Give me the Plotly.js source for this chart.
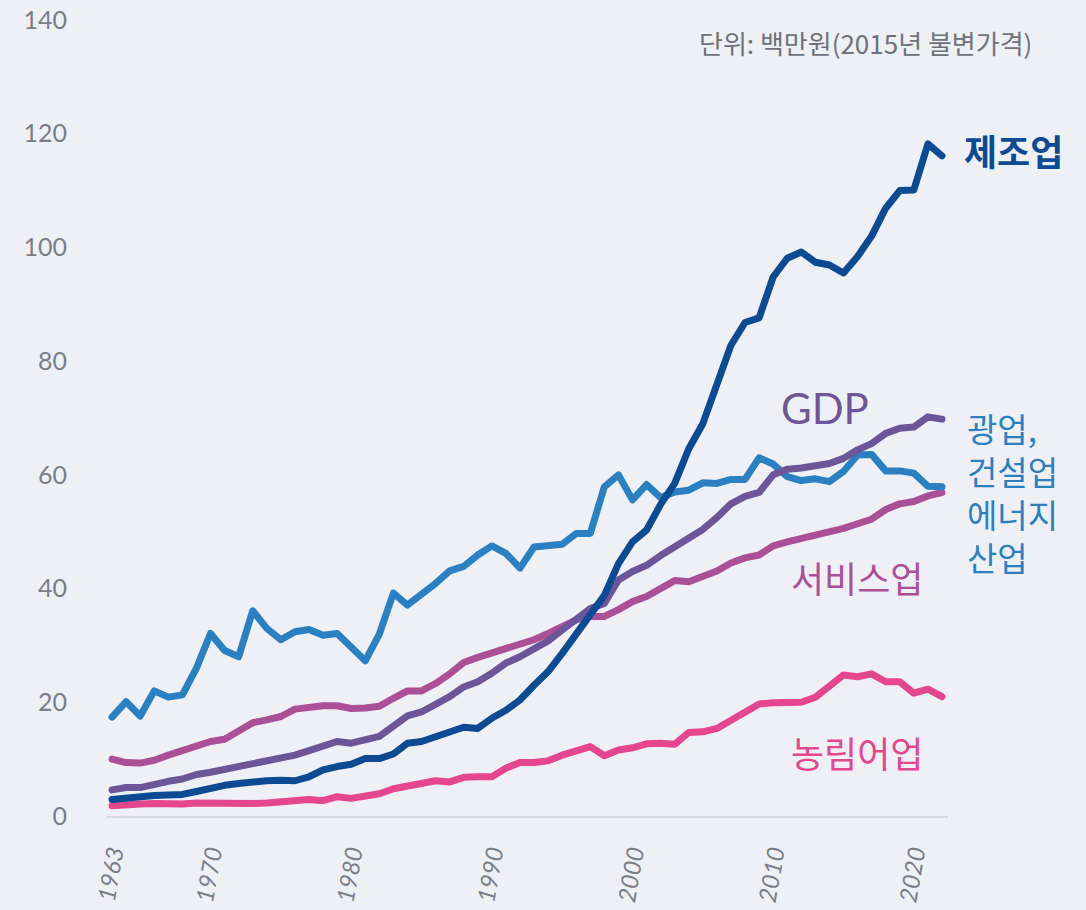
<!DOCTYPE html>
<html>
<head>
<meta charset="utf-8">
<script src="https://cdn.plot.ly/plotly-3.0.1.min.js"></script>
<style>
html,body{margin:0;padding:0;background:#eff0f6;}
#chart{width:1086px;height:910px;}
.scatterlayer .js-line{stroke-linecap:round !important;stroke-linejoin:round !important;}
</style>
</head>
<body>
<div id="chart"></div>
<script>
const years = [];
for (let y = 1963; y <= 2022; y++) years.push(y);

const manufacturing = [2.9,3.2,3.3,3.6,3.7,3.8,4.3,4.9,5.4,5.7,6.1,6.2,6.3,6.2,6.9,8.1,8.7,9.1,10.1,10.1,
  10.9,12.8,13.1,13.9,14.5,15.6,15.4,17.2,18.6,20.4,23.0,25.4,28.6,32.1,35.6,38.8,44.4,48.2,50.3,54.8,
  58.5,64.6,69.0,76.1,82.8,86.8,87.6,94.8,98.1,99.2,97.4,96.9,95.5,98.4,102.0,106.9,110.0,110.1,118.2,116.1];

const miningConstruction = [17.4,20.1,17.6,22.0,20.9,21.3,26.0,32.1,29.1,28.0,36.1,33.0,31.0,32.4,32.8,31.8,32.1,29.5,27.3,32.0,
  39.2,37.1,38.9,40.9,43.1,43.9,45.9,47.5,46.2,43.6,47.3,47.7,47.8,49.7,49.7,57.9,60.0,55.6,58.3,56.0,
  57.0,57.3,58.6,58.5,59.2,59.2,63.0,61.9,59.7,59.0,59.3,58.8,60.6,63.5,63.6,60.7,60.7,60.3,58.0,57.9];

const gdp = [4.6,5.0,5.0,5.7,6.1,6.5,7.3,7.7,8.2,8.4,9.1,9.5,10.0,10.7,11.5,12.2,13.1,12.8,13.4,14.0,
  15.8,17.6,18.3,19.5,21.0,22.7,23.6,25.1,26.9,28.0,29.3,30.8,32.7,34.8,36.5,37.4,41.5,43.0,44.1,45.8,
  47.3,48.8,50.4,52.5,54.9,56.2,56.9,60.0,61.0,61.2,61.6,62.0,62.9,64.4,65.5,67.3,68.2,68.4,70.2,69.8];

const services = [10.0,9.4,9.3,9.8,10.7,11.5,12.5,13.1,13.5,15.1,16.4,16.9,17.5,18.8,19.2,19.4,19.4,18.9,19.0,19.3,
  20.7,22.0,22.0,23.3,25.0,27.0,27.9,28.6,29.4,30.2,31.0,32.1,33.4,34.5,35.1,35.1,36.3,37.7,38.6,40.1,
  41.4,41.2,42.2,43.1,44.5,45.4,45.9,47.5,48.2,48.8,49.4,49.7,50.6,51.4,52.2,53.9,54.9,55.3,56.3,56.9];

const agriculture = [1.8,2.1,2.1,2.2,2.1,2.1,2.3,2.2,2.4,2.2,2.2,2.3,2.5,2.7,2.9,2.7,3.4,3.1,3.5,3.9,
  4.8,5.2,5.8,6.2,6.0,6.8,6.9,6.9,8.4,9.4,9.4,9.7,10.7,11.5,12.2,10.6,11.6,12.0,12.7,12.8,
  12.6,14.7,14.8,15.4,16.9,18.3,19.7,19.9,20.0,20.0,20.9,22.9,24.8,24.5,25.0,23.6,23.6,21.6,22.3,21.0];

const xTickVals = [1963,1970,1980,1990,2000,2010,2020];
const yTickVals = [0,20,40,60,80,100,120,140];
const unitText = '단위: 백만원(2015년 불변가격)';
const miningLabelLines = ['광업,', '건설업', '에너지', '산업'];

const colors = {
  manufacturing:'#0d4a94',
  mining:'#2a80c2',
  gdp:'#6c5599',
  services:'#ab4f97',
  agriculture:'#e4478d'
};

function line(y, color, name){
  return {x: years, y: y, type:'scatter', mode:'lines', name: name,
    line:{color: color, width:7, shape:'linear'}, hoverinfo:'skip'};
}

const data = [
  line(agriculture, colors.agriculture, '농림어업'),
  line(services, colors.services, '서비스업'),
  line(miningConstruction, colors.mining, '광업, 건설업 에너지 산업'),
  line(gdp, colors.gdp, 'GDP'),
  line(manufacturing, colors.manufacturing, '제조업')
];

const kfont = 'Noto Sans CJK KR, Noto Sans, sans-serif';
const annotations = [
  {x:1.0166, y:0.8367, xref:'paper', yref:'paper', xanchor:'left', yanchor:'middle', showarrow:false,
   text:'<b>제조업</b>', font:{family:kfont, size:36, color:colors.manufacturing}},
  {x:1.0202, y:0.4058, xref:'paper', yref:'paper', xanchor:'left', yanchor:'middle', align:'left',
   showarrow:false, text:miningLabelLines.join('<br>'),
   font:{family:kfont, size:33, color:colors.mining}},
  {x:2013.67, y:71.8, xref:'x', yref:'y', xanchor:'center', yanchor:'middle', showarrow:false,
   text:'GDP', font:{family:'Lato, sans-serif', size:42, color:colors.gdp}},
  {x:2015.95, y:42.0, xref:'x', yref:'y', xanchor:'center', yanchor:'middle', showarrow:false,
   text:'서비스업', font:{family:kfont, size:36, color:colors.services}},
  {x:2015.95, y:11.3, xref:'x', yref:'y', xanchor:'center', yanchor:'middle', showarrow:false,
   text:'농림어업', font:{family:kfont, size:36, color:colors.agriculture}},
  {x:1, y:1, xref:'paper', yref:'paper', xanchor:'right', yanchor:'middle', showarrow:false,
   xshift:86, yshift:-22,
   text:unitText, font:{family:kfont, size:26, color:'#6e717b'}}
];

const layout = {
  width:1086, height:910,
  paper_bgcolor:'#eff0f6', plot_bgcolor:'#eff0f6',
  margin:{l:107, r:138, t:20, b:94},
  showlegend:false,
  xaxis:{
    range:[1962.64, 2022.43], tickvals:xTickVals, ticktext:xTickVals.map(String),
    tickangle:-80, showgrid:false, zeroline:false,
    showline:true, linecolor:'#d9dade', linewidth:2,
    ticks:'outside', ticklen:12, tickcolor:'rgba(0,0,0,0)',
    tickfont:{family:'Lato, sans-serif', size:24, color:'#7a7e89', style:'italic'}
  },
  yaxis:{
    range:[0,140], tickvals:yTickVals, showgrid:false, zeroline:false, showline:false,
    ticks:'outside', ticklen:34, tickcolor:'rgba(0,0,0,0)',
    tickfont:{family:'Lato, sans-serif', size:25, color:'#7a7e89'}
  },
  annotations: annotations
};

Plotly.newPlot('chart', data, layout, {displayModeBar:false, staticPlot:true});
</script>
</body>
</html>
